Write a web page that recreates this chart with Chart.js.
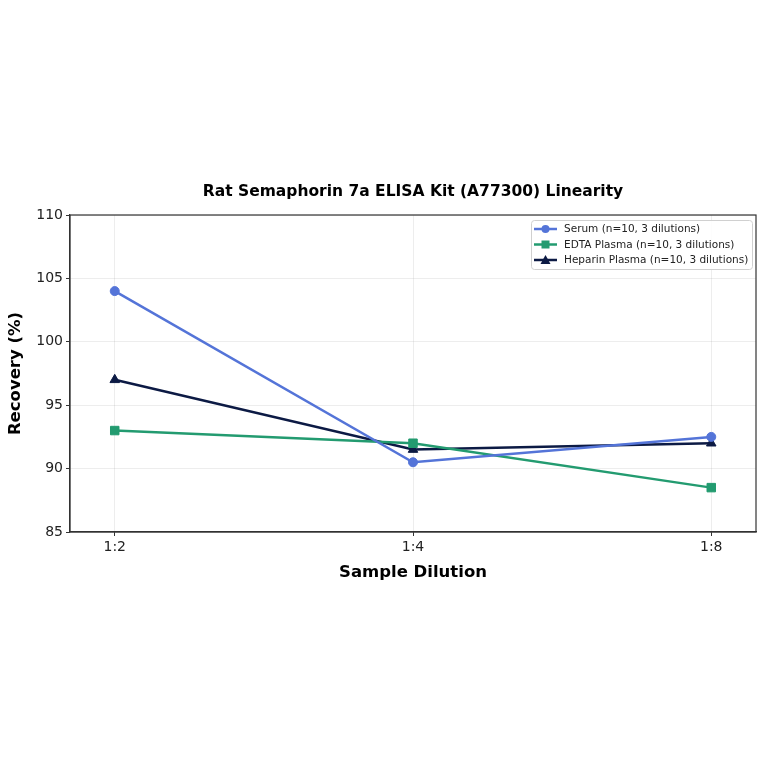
<!DOCTYPE html>
<html lang="en">
<head>
    <meta charset="UTF-8">
    <title>Rat Semaphorin 7a ELISA Kit Linearity</title>
    <script src="https://cdn.jsdelivr.net/npm/chart.js"></script>
    <style>
        html, body { margin: 0; padding: 0; background: #fff; }
        #wrap { width: 764px; height: 764px; }
    </style>
</head>
<body>
    <div id="wrap"><canvas id="linChart" width="764" height="764"></canvas></div>

    <script>
        // Data
        const dilutions = ['1:2', '1:4', '1:8'];
        const serum = [104, 90.5, 92.5];
        const edta = [93, 92, 88.5];
        const heparin = [97, 91.5, 92];
        const yTicks = [85, 90, 95, 100, 105, 110];

        const FONT = "'DejaVu Sans', sans-serif";
        const toPoints = arr => arr.map((v, i) => ({ x: i, y: v }));

        // Title, frame and legend drawn inside the plot
        const decor = {
            id: 'decor',
            afterDraw(chart) {
                const { ctx, chartArea: a } = chart;
                ctx.save();
                // frame
                ctx.strokeStyle = '#333';
                ctx.lineWidth = 1.2;
                ctx.strokeRect(a.left, a.top, a.right - a.left, a.bottom - a.top);
                // title
                ctx.fillStyle = '#000';
                ctx.font = 'bold 15.5px ' + FONT;
                ctx.textAlign = 'center';
                ctx.textBaseline = 'middle';
                ctx.fillText('Rat Semaphorin 7a ELISA Kit (A77300) Linearity', (a.left + a.right) / 2, 192);

                // legend box
                const bx = 531, by = 220, bw = 221, bh = 49;
                ctx.fillStyle = 'rgba(255,255,255,0.85)';
                ctx.strokeStyle = '#d0d0d0';
                ctx.lineWidth = 1;
                ctx.beginPath();
                ctx.roundRect(bx + 0.5, by + 0.5, bw, bh, 3);
                ctx.fill();
                ctx.stroke();
                ctx.font = '10.5px ' + FONT;
                ctx.textAlign = 'left';
                chart.data.datasets.forEach((ds, i) => {
                    const ly = by + 9 + i * 15.5;
                    ctx.strokeStyle = ds.borderColor;
                    ctx.lineWidth = 2.5;
                    ctx.beginPath();
                    ctx.moveTo(bx + 3, ly);
                    ctx.lineTo(bx + 26, ly);
                    ctx.stroke();
                    ctx.fillStyle = ds.borderColor;
                    const cx = bx + 14.5;
                    ctx.beginPath();
                    if (ds.pointStyle === 'circle') {
                        ctx.arc(cx, ly, 4, 0, Math.PI * 2);
                    } else if (ds.pointStyle === 'rect') {
                        ctx.rect(cx - 4, ly - 4, 8, 8);
                    } else {
                        ctx.moveTo(cx, ly - 5);
                        ctx.lineTo(cx + 5, ly + 4);
                        ctx.lineTo(cx - 5, ly + 4);
                        ctx.closePath();
                    }
                    ctx.fill();
                    ctx.fillStyle = '#222';
                    ctx.fillText(ds.label, bx + 33, ly + 0.5);
                });
                ctx.restore();
            }
        };

        new Chart(document.getElementById('linChart'), {
            type: 'line',
            data: {
                datasets: [
                    {
                        label: 'Serum (n=10, 3 dilutions)',
                        data: toPoints(serum),
                        borderColor: '#5474d8',
                        backgroundColor: '#5474d8',
                        pointStyle: 'circle',
                        pointRadius: 4.5
                    },
                    {
                        label: 'EDTA Plasma (n=10, 3 dilutions)',
                        data: toPoints(edta),
                        borderColor: '#239b70',
                        backgroundColor: '#239b70',
                        pointStyle: 'rect',
                        pointRadius: 6
                    },
                    {
                        label: 'Heparin Plasma (n=10, 3 dilutions)',
                        data: toPoints(heparin),
                        borderColor: '#0c1a44',
                        backgroundColor: '#0c1a44',
                        pointStyle: 'triangle',
                        pointRadius: 5.5
                    }
                ]
            },
            options: {
                responsive: false,
                animation: false,
                elements: {
                    line: { borderWidth: 2.5, tension: 0 },
                    point: { borderWidth: 1 }
                },
                layout: { padding: { top: 215, right: 8, bottom: 175, left: 0 } },
                plugins: {
                    legend: { display: false },
                    tooltip: { enabled: false }
                },
                scales: {
                    x: {
                        type: 'linear',
                        min: -0.15,
                        max: 2.15,
                        afterBuildTicks: s => { s.ticks = dilutions.map((_, i) => ({ value: i })); },
                        afterFit: s => { s.height = 57; },
                        ticks: {
                            color: '#222',
                            font: { family: FONT, size: 14 },
                            padding: 3,
                            callback: v => dilutions[v]
                        },
                        grid: { color: 'rgba(0,0,0,0.07)', tickColor: '#333', tickLength: 4 },
                        border: { color: '#333', width: 1.2 },
                        title: {
                            display: true,
                            text: 'Sample Dilution',
                            color: '#000',
                            font: { family: FONT, size: 16.5, weight: 'bold' },
                            padding: { top: 4, bottom: 6 }
                        }
                    },
                    y: {
                        min: 85,
                        max: 110,
                        afterBuildTicks: s => { s.ticks = yTicks.map(v => ({ value: v })); },
                        afterFit: s => { s.width = 70; },
                        ticks: {
                            color: '#222',
                            font: { family: FONT, size: 14 },
                            padding: 3
                        },
                        grid: { color: 'rgba(0,0,0,0.07)', tickColor: '#333', tickLength: 4 },
                        border: { color: '#333', width: 1.2 },
                        title: {
                            display: true,
                            text: 'Recovery (%)',
                            color: '#000',
                            font: { family: FONT, size: 16.5, weight: 'bold' },
                            padding: { top: 6, bottom: 4 }
                        }
                    }
                }
            },
            plugins: [decor]
        });
    </script>
</body>
</html>
